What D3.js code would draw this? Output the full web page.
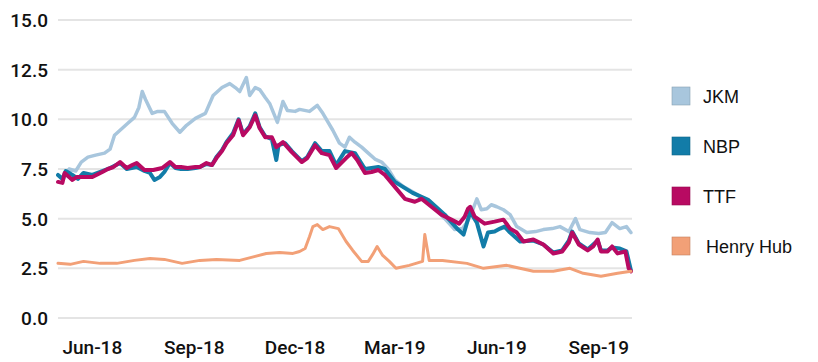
<!DOCTYPE html>
<html>
<head>
<meta charset="utf-8">
<script src="https://cdn.jsdelivr.net/npm/d3@7"></script>
<style>
  body { margin: 0; background: #fff; }
  .tick-y { font-family: Roboto, sans-serif; font-weight: 500; font-size: 19px; fill: #111; }
  .tick-x { font-family: Roboto, sans-serif; font-weight: 500; font-size: 19px; fill: #111; }
  .legend text { font-family: "Liberation Sans", Arial, sans-serif; font-size: 18px; fill: #111; }
</style>
</head>
<body>
<script>
// prices, $/MMBtu
var jkm = [
  ["2018-05-01",7.2],["2018-05-06",7.0],["2018-05-11",7.5],["2018-05-17",7.4],["2018-05-22",7.85],
  ["2018-05-28",8.1],["2018-06-04",8.2],["2018-06-12",8.3],["2018-06-17",8.5],["2018-06-21",9.2],
  ["2018-06-28",9.55],["2018-07-03",9.8],["2018-07-09",10.1],["2018-07-13",10.6],["2018-07-16",11.4],
  ["2018-07-19",11.0],["2018-07-25",10.3],["2018-07-30",10.4],["2018-08-05",10.4],["2018-08-12",9.8],
  ["2018-08-19",9.35],["2018-08-25",9.7],["2018-09-02",10.05],["2018-09-11",10.3],["2018-09-18",11.2],
  ["2018-09-26",11.6],["2018-10-03",11.8],["2018-10-08",11.6],["2018-10-12",11.4],["2018-10-18",12.1],
  ["2018-10-21",11.2],["2018-10-26",11.6],["2018-10-30",11.5],["2018-11-04",11.1],["2018-11-08",10.8],
  ["2018-11-15",9.85],["2018-11-20",10.9],["2018-11-24",10.45],["2018-12-01",10.4],["2018-12-05",10.5],
  ["2018-12-14",10.4],["2018-12-21",10.7],["2018-12-26",10.3],["2019-01-04",9.45],["2019-01-10",8.8],
  ["2019-01-15",8.6],["2019-01-19",9.1],["2019-01-24",8.85],["2019-01-30",8.6],["2019-02-05",8.3],
  ["2019-02-11",8.0],["2019-02-17",7.85],["2019-02-23",7.5],["2019-03-01",6.95],["2019-03-09",6.6],
  ["2019-03-17",6.35],["2019-03-24",6.1],["2019-03-31",5.85],["2019-04-07",5.45],["2019-04-15",5.0],
  ["2019-04-24",4.45],["2019-05-01",4.5],["2019-05-05",4.8],["2019-05-10",5.4],["2019-05-14",6.0],
  ["2019-05-18",5.45],["2019-05-23",5.5],["2019-05-27",5.7],["2019-06-01",5.6],["2019-06-07",5.45],
  ["2019-06-13",5.2],["2019-06-19",4.6],["2019-06-28",4.3],["2019-07-06",4.35],["2019-07-13",4.45],
  ["2019-07-21",4.5],["2019-07-28",4.6],["2019-08-05",4.35],["2019-08-11",5.0],["2019-08-15",4.45],
  ["2019-08-24",4.3],["2019-09-01",4.25],["2019-09-07",4.3],["2019-09-13",4.8],["2019-09-20",4.5],
  ["2019-09-26",4.6],["2019-09-30",4.3]
];
var nbp = [
  ["2018-05-01",7.2],["2018-05-05",7.0],["2018-05-08",7.4],["2018-05-14",7.2],["2018-05-19",7.0],
  ["2018-05-24",7.3],["2018-06-01",7.2],["2018-06-10",7.4],["2018-06-17",7.55],["2018-06-26",7.8],
  ["2018-07-02",7.5],["2018-07-11",7.6],["2018-07-18",7.4],["2018-07-23",7.3],["2018-07-27",6.95],
  ["2018-08-01",7.1],["2018-08-05",7.35],["2018-08-10",7.8],["2018-08-15",7.55],["2018-08-20",7.5],
  ["2018-08-26",7.5],["2018-09-02",7.55],["2018-09-06",7.6],["2018-09-12",7.75],["2018-09-17",7.7],
  ["2018-09-21",8.1],["2018-09-26",8.45],["2018-09-30",8.85],["2018-10-06",9.3],["2018-10-11",10.0],
  ["2018-10-15",9.25],["2018-10-21",9.65],["2018-10-26",10.3],["2018-10-30",9.6],["2018-11-04",9.15],
  ["2018-11-10",9.0],["2018-11-14",7.95],["2018-11-16",8.7],["2018-11-22",8.8],["2018-11-28",8.4],
  ["2018-12-07",7.9],["2018-12-12",8.1],["2018-12-19",8.8],["2018-12-25",8.4],["2019-01-01",8.4],
  ["2019-01-07",7.7],["2019-01-15",8.4],["2019-01-24",8.3],["2019-02-02",7.5],["2019-02-14",7.6],
  ["2019-02-20",7.5],["2019-03-01",6.85],["2019-03-17",6.3],["2019-03-31",5.95],["2019-04-15",5.2],
  ["2019-04-27",4.45],["2019-05-02",4.2],["2019-05-08",5.35],["2019-05-14",4.8],["2019-05-20",3.6],
  ["2019-05-24",4.3],["2019-05-30",4.35],["2019-06-04",4.5],["2019-06-08",4.6],["2019-06-13",4.3],
  ["2019-06-22",3.85],["2019-07-04",3.9],["2019-07-13",3.7],["2019-07-22",3.3],["2019-07-30",3.4],
  ["2019-08-05",3.9],["2019-08-08",4.35],["2019-08-14",3.75],["2019-08-22",3.45],["2019-08-31",3.9],
  ["2019-09-03",3.4],["2019-09-09",3.4],["2019-09-13",3.55],["2019-09-20",3.5],["2019-09-26",3.35],
  ["2019-09-30",2.4]
];
var ttf = [
  ["2018-05-01",6.85],["2018-05-05",6.8],["2018-05-07",7.3],["2018-05-14",6.95],["2018-05-18",7.1],
  ["2018-05-22",7.1],["2018-06-01",7.1],["2018-06-10",7.35],["2018-06-15",7.5],["2018-06-20",7.6],
  ["2018-06-26",7.85],["2018-07-02",7.55],["2018-07-07",7.7],["2018-07-11",7.8],["2018-07-18",7.45],
  ["2018-07-26",7.45],["2018-08-03",7.55],["2018-08-10",7.85],["2018-08-15",7.6],["2018-08-20",7.6],
  ["2018-08-26",7.55],["2018-09-02",7.6],["2018-09-06",7.6],["2018-09-12",7.8],["2018-09-17",7.7],
  ["2018-09-21",8.05],["2018-09-26",8.4],["2018-09-30",8.8],["2018-10-06",9.2],["2018-10-11",9.95],
  ["2018-10-15",9.2],["2018-10-21",9.6],["2018-10-26",10.2],["2018-10-30",9.55],["2018-11-04",9.1],
  ["2018-11-10",9.1],["2018-11-14",8.6],["2018-11-20",8.85],["2018-11-28",8.35],["2018-12-07",7.85],
  ["2018-12-12",8.05],["2018-12-19",8.7],["2018-12-25",8.3],["2019-01-01",8.2],["2019-01-07",7.55],
  ["2019-01-16",8.05],["2019-01-21",8.3],["2019-01-26",7.95],["2019-02-02",7.3],["2019-02-08",7.35],
  ["2019-02-14",7.45],["2019-02-20",7.2],["2019-03-01",6.6],["2019-03-10",6.0],["2019-03-19",5.85],
  ["2019-03-25",6.0],["2019-04-03",5.6],["2019-04-12",5.2],["2019-04-21",4.95],["2019-04-28",4.75],
  ["2019-05-03",5.1],["2019-05-06",5.5],["2019-05-08",5.6],["2019-05-12",5.1],["2019-05-21",4.75],
  ["2019-05-30",4.85],["2019-06-07",4.95],["2019-06-13",4.5],["2019-06-19",4.3],["2019-06-25",3.85],
  ["2019-07-04",3.95],["2019-07-13",3.7],["2019-07-22",3.25],["2019-07-30",3.35],["2019-08-05",3.8],
  ["2019-08-08",4.3],["2019-08-14",3.7],["2019-08-22",3.4],["2019-08-27",3.6],["2019-08-31",3.95],
  ["2019-09-03",3.35],["2019-09-09",3.35],["2019-09-13",3.6],["2019-09-18",3.25],["2019-09-25",3.35],
  ["2019-09-28",2.5],["2019-09-30",2.35]
];
var henryHub = [
  ["2018-05-01",2.75],["2018-05-12",2.7],["2018-05-24",2.85],["2018-06-08",2.75],["2018-06-23",2.75],
  ["2018-07-09",2.9],["2018-07-23",3.0],["2018-08-05",2.95],["2018-08-21",2.75],["2018-09-06",2.9],
  ["2018-09-21",2.95],["2018-10-12",2.9],["2018-10-26",3.1],["2018-11-05",3.25],["2018-11-17",3.3],
  ["2018-11-29",3.25],["2018-12-05",3.35],["2018-12-10",3.5],["2018-12-14",4.1],["2018-12-17",4.6],
  ["2018-12-21",4.7],["2018-12-26",4.45],["2019-01-01",4.6],["2019-01-09",4.5],["2019-01-16",3.85],
  ["2019-01-22",3.4],["2019-01-30",2.85],["2019-02-05",2.85],["2019-02-09",3.2],["2019-02-13",3.6],
  ["2019-02-18",3.15],["2019-02-24",2.85],["2019-03-02",2.5],["2019-03-14",2.65],["2019-03-26",2.85],
  ["2019-03-28",4.2],["2019-04-01",2.9],["2019-04-13",2.9],["2019-05-05",2.75],["2019-05-20",2.5],
  ["2019-06-10",2.65],["2019-07-04",2.35],["2019-07-22",2.35],["2019-08-06",2.5],["2019-08-18",2.25],
  ["2019-09-03",2.1],["2019-09-18",2.25],["2019-09-30",2.35]
];

var seriesNames = ["JKM", "NBP", "TTF", "Henry Hub"];
var seriesColors = ["#a8c6dd", "#127ca8", "#b80a62", "#f2a077"];
var yTicks = [0, 2.5, 5, 7.5, 10, 12.5, 15];
var xTickDates = ["2018-06-01", "2018-09-01", "2018-12-01", "2019-03-01", "2019-06-01", "2019-09-01"];

var width = 818, height = 362;
var parse = d3.timeParse("%Y-%m-%d");

var svg = d3.select("body").append("svg")
  .attr("width", width)
  .attr("height", height);

var x = d3.scaleTime()
  .domain([parse("2018-05-01"), parse("2019-10-01")])
  .range([58, 632]);
var y = d3.scaleLinear()
  .domain([0, 15])
  .range([318, 20]);

// gridlines
svg.append("g").selectAll("line")
  .data(yTicks).join("line")
  .attr("x1", 58).attr("x2", 632)
  .attr("y1", function(d) { return y(d); })
  .attr("y2", function(d) { return y(d); })
  .attr("stroke", "#e4e4e4")
  .attr("stroke-width", 2);

// y labels
svg.append("g").selectAll("text")
  .data(yTicks).join("text")
  .attr("class", "tick-y")
  .attr("x", 48)
  .attr("y", function(d) { return y(d) + 7; })
  .attr("text-anchor", "end")
  .text(d3.format(".1f"));

// x labels
svg.append("g").selectAll("text")
  .data(xTickDates).join("text")
  .attr("class", "tick-x")
  .attr("x", function(d) { return x(parse(d)); })
  .attr("y", 354)
  .attr("text-anchor", "middle")
  .text(function(d) { return d3.timeFormat("%b-%y")(parse(d)); });

// lines
var line = d3.line()
  .x(function(d) { return x(parse(d[0])); })
  .y(function(d) { return y(d[1]); });

var allSeries = [jkm, nbp, ttf, henryHub];
var widths = [3.5, 4, 4, 3];
allSeries.forEach(function(s, i) {
  svg.append("path")
    .datum(s)
    .attr("fill", "none")
    .attr("stroke", seriesColors[i])
    .attr("stroke-width", widths[i])
    .attr("stroke-linejoin", "round")
    .attr("stroke-linecap", "round")
    .attr("d", line);
});

// legend
var legend = svg.append("g").attr("class", "legend");
seriesNames.forEach(function(name, i) {
  var g = legend.append("g").attr("transform", "translate(672," + (87 + i * 50) + ")");
  g.append("rect")
    .attr("width", 18).attr("height", 18)
    .attr("fill", seriesColors[i])
    .attr("stroke", d3.color(seriesColors[i]).darker(0.6))
    .attr("stroke-width", 0.6);
  g.append("text")
    .attr("x", i === 3 ? 34 : 31)
    .attr("y", 16)
    .text(name);
});
</script>
</body>
</html>
